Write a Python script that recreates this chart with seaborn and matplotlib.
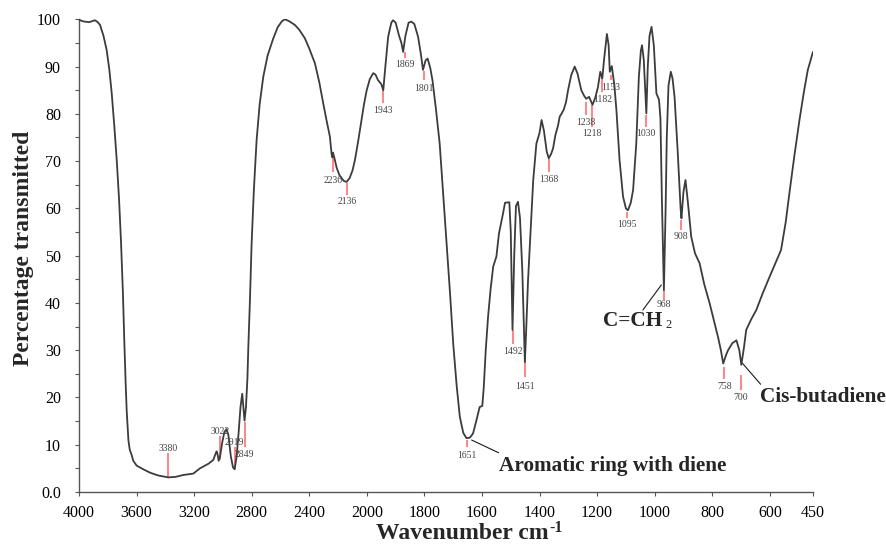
import numpy as np
import matplotlib
matplotlib.use('Agg')
import matplotlib.pyplot as plt
import seaborn as sns
from matplotlib.ticker import FixedLocator, MultipleLocator, FuncFormatter

# FTIR spectrum: wavenumber (cm-1) and % transmitted
wavenumber = [4000, 3975, 3958, 3930, 3910, 3889, 3870, 3854, 3830, 3808, 3790, 3773, 3755, 3738,
              3722, 3708, 3695, 3685, 3676, 3669, 3657, 3648, 3634, 3623, 3600, 3553, 3507, 3450,
              3400, 3380, 3330, 3276, 3206, 3160, 3100, 3067, 3050, 3044, 3036, 3030, 3020, 3005,
              2990, 2975, 2962, 2945, 2930, 2919, 2905, 2890, 2878, 2866, 2858, 2850, 2840, 2830,
              2824, 2812, 2801, 2785, 2766, 2745, 2720, 2690, 2651, 2620, 2590, 2569, 2540, 2500,
              2470, 2431, 2400, 2361, 2330, 2303, 2280, 2257, 2245, 2240, 2236, 2228, 2210, 2190,
              2160, 2141, 2120, 2100, 2083, 2060, 2037, 2020, 2001, 1990, 1978, 1970, 1961, 1950,
              1943, 1935, 1926, 1915, 1909, 1900, 1888, 1880, 1874, 1866, 1855, 1845, 1835, 1822,
              1812, 1805, 1796, 1789, 1780, 1772, 1760, 1747, 1735, 1723, 1711, 1700, 1688, 1677,
              1665, 1654, 1642, 1631, 1620, 1608, 1599, 1594, 1587, 1579, 1570, 1561, 1550, 1541,
              1527, 1520, 1505, 1500, 1494, 1488, 1482, 1475, 1468, 1460, 1451, 1446, 1440, 1428,
              1422, 1411, 1400, 1393, 1385, 1375, 1368, 1360, 1353, 1345, 1336, 1330, 1322, 1316,
              1308, 1301, 1290, 1278, 1268, 1255, 1245, 1238, 1228, 1216, 1206, 1197, 1189, 1182,
              1175, 1166, 1160, 1156, 1149, 1140, 1133, 1122, 1110, 1100, 1093, 1083, 1075, 1064,
              1055, 1048, 1044, 1038, 1032, 1029, 1024, 1018, 1011, 1003, 994, 985, 980, 975,
              968, 962, 958, 952, 944, 938, 931, 920, 910, 907, 900, 893, 885, 873,
              860, 844, 828, 809, 795, 780, 770, 762, 752, 745, 730, 716, 706, 699,
              690, 682, 665, 647, 625, 601, 580, 561, 545, 532, 515, 497, 482, 468, 450]
transmitted = [99.9, 99.6, 99.5, 99.4, 99.6, 99.8, 99.4, 98.8, 96.5, 93.5, 89.5, 84.4, 77.5, 70.2,
               62.0, 52.7, 42.0, 31.5, 23.0, 17.3, 11.0, 9.0, 7.8, 6.6, 5.6, 4.8, 4.1, 3.5,
               3.2, 3.1, 3.2, 3.6, 3.9, 5.0, 6.0, 6.8, 8.2, 8.6, 7.8, 6.6, 7.5, 10.5,
               12.7, 13.3, 12.0, 7.5, 5.2, 4.8, 7.5, 13.0, 18.0, 20.8, 18.0, 15.1, 18.0, 24.0,
               30.3, 41.0, 52.4, 64.0, 74.5, 82.0, 87.8, 92.3, 95.9, 98.3, 99.6, 100.0, 99.6, 98.8,
               97.8, 96.0, 93.8, 90.7, 86.6, 82.2, 78.6, 75.2, 71.5, 70.8, 71.8, 71.0, 68.6, 67.0,
               65.8, 65.6, 66.4, 68.0, 70.2, 74.3, 78.7, 82.0, 85.0, 87.3, 88.6, 88.3, 87.1, 86.3,
               85.0, 90.5, 96.3, 99.3, 99.8, 99.3, 96.5, 95.0, 93.1, 96.5, 99.3, 99.5, 99.0, 96.3,
               92.5, 89.3, 91.3, 91.7, 89.8, 87.1, 81.0, 73.7, 63.0, 52.6, 42.0, 31.4, 22.5, 15.9,
               12.5, 11.4, 11.5, 12.4, 15.0, 18.0, 18.2, 22.0, 30.0, 37.0, 43.0, 47.7, 49.8, 54.7,
               58.9, 61.2, 61.3, 55.0, 34.3, 50.0, 60.5, 61.4, 58.0, 47.0, 27.5, 35.0, 44.8, 59.0,
               66.0, 73.7, 76.0, 78.7, 76.5, 72.0, 70.6, 71.5, 72.7, 75.5, 77.5, 79.4, 80.2, 80.9,
               82.5, 85.0, 88.2, 90.0, 88.5, 85.0, 83.8, 83.2, 83.6, 81.9, 83.5, 85.7, 88.9, 87.5,
               92.0, 96.9, 94.5, 88.9, 90.1, 86.0, 80.8, 70.2, 62.5, 60.0, 59.6, 61.2, 63.9, 73.7,
               87.8, 93.4, 94.5, 91.5, 84.0, 80.1, 90.0, 96.5, 98.4, 94.5, 84.3, 83.0, 79.0, 62.0,
               42.7, 60.0, 75.0, 86.0, 88.9, 87.5, 83.6, 72.0, 60.0, 57.9, 63.5, 66.0, 61.5, 54.0,
               50.5, 48.4, 44.0, 39.9, 36.5, 32.8, 30.0, 27.2, 29.0, 30.0, 31.5, 32.1, 30.0, 26.9,
               30.5, 34.3, 36.5, 38.5, 42.0, 45.5, 48.5, 51.2, 57.0, 63.2, 71.0, 78.7, 84.5, 89.3, 93.1]

# peak markers: label, red tick from -> to, height of the number
peak_labels = ['3380', '3022', '2919', '2849', '2236', '2136', '1943', '1869', '1801', '1651',
               '1492', '1451', '1368', '1238', '1218', '1182', '1153', '1095', '1030', '968',
               '908', '758', '700']
peak_from = [3.2, 6.8, 4.8, 14.9, 71.6, 65.3, 85.0, 93.1, 89.1, 11.0,
             34.3, 28.6, 70.4, 82.6, 81.9, 87.8, 88.2, 59.3, 79.7, 42.7,
             57.5, 26.5, 24.7]
peak_to = [8.3, 11.8, 9.6, 9.6, 67.8, 62.8, 82.2, 91.9, 87.1, 9.5,
           31.4, 24.4, 67.8, 79.7, 77.3, 84.7, 87.1, 57.9, 77.3, 40.6,
           55.4, 24.0, 21.6]
peak_text_y = [9.3, 12.8, 10.4, 8.0, 66.0, 61.4, 80.8, 90.5, 85.4, 7.8,
               29.7, 22.4, 66.1, 78.2, 75.9, 83.1, 85.6, 56.5, 75.9, 39.6,
               54.0, 22.4, 20.0]

xticks = [4000, 3600, 3200, 2800, 2400, 2000, 1800, 1600, 1400, 1200, 1000, 800, 600, 450]
yticks = [0, 10, 20, 30, 40, 50, 60, 70, 80, 90, 100]

sns.set_theme(style='ticks')
plt.rcParams['font.family'] = ['Liberation Serif', 'DejaVu Serif']


# x axis is split: 4000-2000 drawn at half the scale of 2000-450
def fwd(x):
    x = np.asarray(x, dtype=float)
    return np.where(x > 2000, 2000 + (x - 2000) * 0.5, x)


def inv(x):
    x = np.asarray(x, dtype=float)
    return np.where(x > 2000, 2000 + (x - 2000) * 2.0, x)


fig = plt.figure(figsize=(8.86, 5.47), dpi=100)
ax = fig.add_axes([0.0892, 0.1005, 0.8284, 0.8642])

# red peak ticks + numbers
ax.vlines([float(p) for p in peak_labels], peak_from, peak_to, colors='#ff6f6f', lw=1.2, zorder=2)
for lab, ty in zip(peak_labels, peak_text_y):
    ax.text(float(lab), ty, lab, ha='center', va='center', fontsize=7, color='#444444', zorder=4)

sns.lineplot(x=wavenumber, y=transmitted, ax=ax, color='#3c3c3c', lw=1.3,
             sort=False, estimator=None, zorder=3)

ax.set_xscale('function', functions=(fwd, inv))
ax.set_xlim(4000, 450)
ax.set_ylim(0, 100)

# band assignments
ax.plot([1636, 1542], [11.0, 8.3], color='k', lw=0.8)
ax.text(1541, 5.6, 'Aromatic ring with diene', ha='left', va='center',
        fontsize=15.3, fontweight='bold')
ax.plot([1041, 977], [38.5, 43.8], color='k', lw=0.8)
ax.text(1180, 36.2, 'C=CH', ha='left', va='center', fontsize=15.3, fontweight='bold')
ax.text(961, 35.3, '2', ha='left', va='center', fontsize=9)
ax.plot([696, 632], [27.3, 22.8], color='k', lw=0.8)
ax.text(635, 20.1, 'Cis-butadiene', ha='left', va='center', fontsize=15.3, fontweight='bold')

ax.xaxis.set_major_locator(FixedLocator(xticks))
ax.xaxis.set_minor_locator(FixedLocator([]))
ax.set_xticklabels([str(t) for t in xticks])
ax.yaxis.set_major_locator(FixedLocator(yticks))
ax.yaxis.set_minor_locator(MultipleLocator(5))
ax.yaxis.set_major_formatter(FuncFormatter(lambda v, p: '0.0' if v == 0 else f'{v:.0f}'))

ax.tick_params(axis='both', which='both', direction='out', length=3, width=0.8,
               color='#555555', labelsize=11.5, labelcolor='black')
ax.tick_params(axis='x', pad=6)
ax.tick_params(axis='y', pad=10)

for s in ['top', 'right']:
    ax.spines[s].set_visible(False)
for s in ['left', 'bottom']:
    ax.spines[s].set_color('#555555')
    ax.spines[s].set_linewidth(1.0)

ax.set_ylabel('Percentage transmitted', fontsize=17, fontweight='bold')
ax.yaxis.set_label_coords(-0.062, 0.515)

# x label: plain text, with the small bold "-1" hung on its top-right corner
ax.set_xlabel('Wavenumber cm', fontsize=17, fontweight='bold')
ax.xaxis.set_label_coords(0.522, -0.065)
ax.annotate('-1', xy=(1.0, 1.0), xycoords=ax.xaxis.label, xytext=(0.5, 2.0),
            textcoords='offset points', ha='left', va='top', fontsize=11.5, fontweight='bold')

fig.savefig('out.png', dpi=100)
